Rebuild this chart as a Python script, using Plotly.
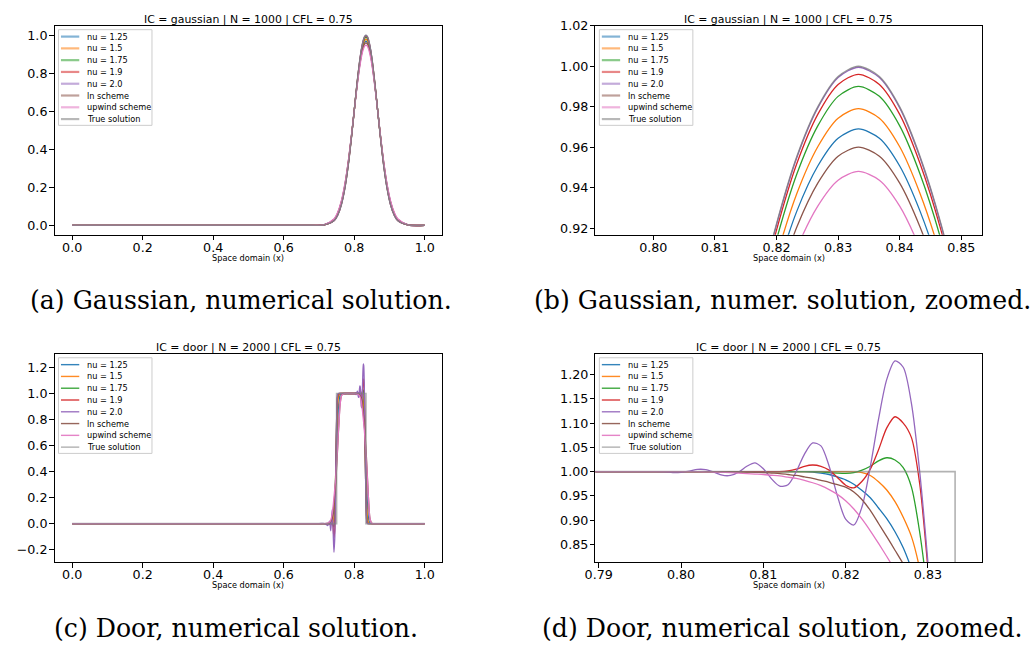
import plotly.graph_objects as go

# legend entries / colours (matplotlib tab10)
series_names = ["nu = 1.25", "nu = 1.5", "nu = 1.75", "nu = 1.9", "nu = 2.0",
                "ln scheme", "upwind scheme", "True solution"]
series_colors = ["#1f77b4", "#ff7f0e", "#2ca02c", "#d62728", "#9467bd",
                 "#8c564b", "#e377c2", "#7f7f7f"]

titles = ["IC = gaussian | N = 1000 | CFL = 0.75", "IC = gaussian | N = 1000 | CFL = 0.75",
          "IC = door | N = 2000 | CFL = 0.75", "IC = door | N = 2000 | CFL = 0.75"]
captions = ["(a) Gaussian, numerical solution.", "(b) Gaussian, numer. solution, zoomed.",
            "(c) Door, numerical solution.", "(d) Door, numerical solution, zoomed."]
xlabel = "Space domain (x)"

# ---- gaussian initial condition ----
gauss_x = [0.0, 0.35, 0.6, 0.68, 0.7133, 0.7433, 0.7533, 0.7633, 0.7733, 0.7833, 0.7933, 0.8033, 0.8083,
           0.8133, 0.8167, 0.8200, 0.8233, 0.8267, 0.8300, 0.8333, 0.8367, 0.8400, 0.8433, 0.8467, 0.8500,
           0.8533, 0.8583, 0.8633, 0.8733, 0.8833, 0.8933, 0.9033, 0.9133, 0.9233, 0.9533, 1.0]
gauss_nu125 = [0.0, 0.0, 0.0, 0.0, 0.0020, 0.0301, 0.0624, 0.1187, 0.2072, 0.3320, 0.4882, 0.6590, 0.7413,
               0.8164, 0.8603, 0.8979, 0.9284, 0.9507, 0.9644, 0.9690, 0.9644, 0.9507, 0.9284, 0.8979, 0.8603,
               0.8164, 0.7413, 0.6590, 0.4882, 0.3320, 0.2072, 0.1187, 0.0624, 0.0301, 0.0020, 0.0]
gauss_nu15 = [0.0, 0.0, 0.0, 0.0, 0.0018, 0.0283, 0.0596, 0.1148, 0.2027, 0.3280, 0.4862, 0.6604, 0.7448,
              0.8219, 0.8670, 0.9057, 0.9371, 0.9602, 0.9743, 0.9790, 0.9743, 0.9602, 0.9371, 0.9057, 0.8670,
              0.8219, 0.7448, 0.6604, 0.4862, 0.3280, 0.2027, 0.1148, 0.0596, 0.0283, 0.0018, 0.0]
gauss_nu175 = [0.0, 0.0, 0.0, 0.0, 0.0016, 0.0264, 0.0565, 0.1105, 0.1978, 0.3235, 0.4839, 0.6619, 0.7485,
               0.8278, 0.8743, 0.9143, 0.9467, 0.9705, 0.9851, 0.9900, 0.9851, 0.9705, 0.9467, 0.9143, 0.8743,
               0.8278, 0.7485, 0.6619, 0.4839, 0.3235, 0.1978, 0.1105, 0.0565, 0.0264, 0.0016, 0.0]
gauss_nu19 = [0.0, 0.0, 0.0, 0.0, 0.0015, 0.0254, 0.0549, 0.1083, 0.1952, 0.3211, 0.4826, 0.6627, 0.7505,
              0.8310, 0.8783, 0.9190, 0.9519, 0.9762, 0.9910, 0.9960, 0.9910, 0.9762, 0.9519, 0.9190, 0.8783,
              0.8310, 0.7505, 0.6627, 0.4826, 0.3211, 0.1952, 0.1083, 0.0549, 0.0254, 0.0015, 0.0]
gauss_nu20 = [0.0, 0.0, 0.0, 0.0, 0.0014, 0.0248, 0.0539, 0.1068, 0.1933, 0.3193, 0.4816, 0.6629, 0.7514,
              0.8327, 0.8805, 0.9216, 0.9549, 0.9794, 0.9944, 0.9995, 0.9944, 0.9794, 0.9549, 0.9216, 0.8805,
              0.8327, 0.7514, 0.6629, 0.4816, 0.3193, 0.1933, 0.1068, 0.0539, 0.0248, 0.0014, 0.0]
gauss_ln = [0.0, 0.0, 0.0, 0.0, 0.0023, 0.0320, 0.0653, 0.1225, 0.2116, 0.3359, 0.4902, 0.6578, 0.7383,
            0.8115, 0.8543, 0.8909, 0.9205, 0.9422, 0.9555, 0.9600, 0.9555, 0.9422, 0.9205, 0.8909, 0.8543,
            0.8115, 0.7383, 0.6578, 0.4902, 0.3359, 0.2116, 0.1225, 0.0653, 0.0320, 0.0023, 0.0]
gauss_upwind = [0.0, 0.0, 0.0, 0.0, 0.0026, 0.0341, 0.0685, 0.1268, 0.2163, 0.3397, 0.4916, 0.6552, 0.7335,
                0.8044, 0.8458, 0.8813, 0.9099, 0.9309, 0.9437, 0.9480, 0.9437, 0.9309, 0.9099, 0.8813, 0.8458,
                0.8044, 0.7335, 0.6552, 0.4916, 0.3397, 0.2163, 0.1268, 0.0685, 0.0341, 0.0026, 0.0]
gauss_true = [0.0, 0.0, 0.0, 0.0, 0.0014, 0.0248, 0.0539, 0.1069, 0.1934, 0.3195, 0.4818, 0.6632, 0.7518,
              0.8331, 0.8809, 0.9221, 0.9554, 0.9799, 0.9949, 1.0, 0.9949, 0.9799, 0.9554, 0.9221, 0.8809,
              0.8331, 0.7518, 0.6632, 0.4818, 0.3195, 0.1934, 0.1069, 0.0539, 0.0248, 0.0014, 0.0]

# ---- door initial condition ----
door_x = [0.0, 0.35, 0.6, 0.70, 0.715, 0.725, 0.730, 0.7335, 0.7375, 0.740, 0.7425, 0.745,
          0.7475, 0.750, 0.7525, 0.755, 0.7575, 0.760, 0.765, 0.775, 0.785, 0.792,
          0.797, 0.798, 0.799, 0.800, 0.801, 0.802, 0.803, 0.804, 0.805, 0.806,
          0.807, 0.808, 0.809, 0.810, 0.811, 0.812, 0.813, 0.814, 0.815, 0.816,
          0.817, 0.818, 0.819, 0.820, 0.821, 0.822, 0.823, 0.824, 0.825, 0.826,
          0.827, 0.828, 0.829, 0.830, 0.831, 0.832, 0.833, 0.834, 0.835, 0.836,
          0.838, 0.840, 0.8425, 0.845, 0.850, 0.860, 0.900, 0.950, 1.0]
door_nu125 = [0.0, 0.0, 0.0, 0.0, 0.0, 0.0, 0.0, 0.0026, 0.024, 0.061, 0.119, 0.215,
              0.366, 0.556, 0.746, 0.890, 0.954, 0.987, 0.999, 1.0, 1.0, 1.0,
              1.0, 1.0, 1.0, 1.0, 1.0, 1.0, 1.0, 1.0, 1.0, 1.0,
              1.0, 1.0, 1.0, 1.0, 1.0, 1.0, 1.0, 1.0, 1.0, 0.999,
              0.997, 0.994, 0.989, 0.983, 0.974, 0.961, 0.946, 0.925, 0.903, 0.876,
              0.843, 0.800, 0.750, 0.690, 0.620, 0.550, 0.470, 0.390, 0.310, 0.240,
              0.120, 0.050, 0.015, 0.003, 0.0, 0.0, 0.0, 0.0, 0.0]
door_nu15 = [0.0, 0.0, 0.0, 0.0, 0.0, 0.0, 0.0, 0.0, 0.0, 0.012, 0.057, 0.154,
             0.396, 0.683, 0.878, 0.965, 0.990, 0.999, 1.0, 1.0, 1.0, 1.0,
             1.0, 1.0, 1.0, 1.0, 1.0, 1.0, 1.0, 1.0, 1.0, 1.0,
             1.0, 1.0, 1.0, 1.0, 1.0, 1.0, 1.0, 1.0, 1.0, 1.0,
             1.0, 1.0, 1.0, 1.0, 0.9995, 0.998, 0.992, 0.979, 0.962, 0.938,
             0.906, 0.866, 0.800, 0.700, 0.580, 0.460, 0.350, 0.250, 0.170, 0.110,
             0.040, 0.012, 0.002, 0.0, 0.0, 0.0, 0.0, 0.0, 0.0]
door_nu175 = [0.0, 0.0, 0.0, 0.0, 0.0, 0.0, 0.0, 0.0005, 0.003, -0.015, -0.025, 0.060,
              0.404, 0.785, 0.967, 0.995, 1.0, 1.0, 1.0, 1.0, 1.0, 1.0,
              1.0, 1.0, 1.0, 1.0, 1.0, 1.0, 1.0, 1.0, 1.0, 1.0,
              1.0, 1.0, 1.0, 1.0, 1.0, 1.0, 1.0, 1.0, 1.0, 1.0,
              0.9995, 0.998, 0.997, 0.9965, 0.998, 1.003, 1.011, 1.022, 1.0285, 1.024,
              1.008, 0.968, 0.875, 0.740, 0.560, 0.390, 0.250, 0.140, 0.065, 0.025,
              0.004, 0.0, 0.0, 0.0, 0.0, 0.0, 0.0, 0.0, 0.0]
door_nu19 = [0.0, 0.0, 0.0, 0.0, 0.0, 0.0, -0.0015, -0.011, 0.032, -0.018, -0.111, -0.040,
             0.360, 0.770, 0.970, 0.996, 1.0, 1.0, 1.0, 1.0, 1.0, 1.0,
             1.0, 1.0, 1.0, 1.0, 1.0, 1.0, 1.0, 1.0, 1.0, 1.0,
             1.0, 1.0, 1.0, 1.0, 1.0, 1.0, 1.0015, 1.005, 1.011, 1.0136,
             1.011, 1.003, 0.988, 0.972, 0.9665, 0.980, 1.005, 1.045, 1.090, 1.113,
             1.100, 1.070, 0.975, 0.800, 0.600, 0.400, 0.230, 0.110, 0.040, 0.012,
             0.002, 0.0, 0.0, 0.0, 0.0, 0.0, 0.0, 0.0, 0.0]
door_nu20 = [0.0, 0.0, 0.0, 0.0, 0.001, -0.015, 0.019, -0.055, 0.108, -0.040, -0.220, -0.100,
             0.360, 0.790, 0.987, 1.0, 1.0, 1.0, 1.0, 1.0, 1.0, 1.0,
             1.000, 0.9995, 0.998, 0.9985, 1.001, 1.0045, 1.004, 0.999, 0.9925, 0.992,
             0.999, 1.011, 1.018, 1.006, 0.985, 0.970, 0.973, 1.000, 1.036, 1.059,
             1.053, 1.011, 0.950, 0.902, 0.890, 0.928, 1.010, 1.108, 1.190, 1.228,
             1.215, 1.140, 1.000, 0.813, 0.600, 0.390, 0.210, 0.090, 0.030, 0.008,
             0.0, 0.0, 0.0, 0.0, 0.0, 0.0, 0.0, 0.0, 0.0]
door_ln = [0.0, 0.0, 0.0, 0.0, 0.0, 0.001, 0.0066, 0.017, 0.040, 0.087, 0.156, 0.229,
           0.313, 0.427, 0.554, 0.687, 0.820, 0.920, 0.990, 1.0, 1.0, 1.0,
           1.0, 1.0, 1.0, 1.0, 1.0, 1.0, 1.0, 1.0, 1.0, 1.0,
           0.9995, 0.999, 0.9985, 0.998, 0.997, 0.996, 0.994, 0.992, 0.989, 0.986,
           0.982, 0.978, 0.973, 0.968, 0.958, 0.942, 0.920, 0.893, 0.866, 0.838,
           0.810, 0.780, 0.748, 0.713, 0.675, 0.633, 0.588, 0.540, 0.490, 0.438,
           0.330, 0.220, 0.100, 0.035, 0.003, 0.0, 0.0, 0.0, 0.0]
door_upwind = [0.0, 0.0, 0.0, 0.0, 0.0, 0.0043, 0.012, 0.0285, 0.074, 0.130, 0.200, 0.271,
               0.347, 0.458, 0.570, 0.702, 0.807, 0.910, 0.988, 1.0, 1.0, 1.0,
               1.0, 1.0, 1.0, 1.0, 1.0, 1.0, 0.9995, 0.999, 0.9985, 0.998,
               0.997, 0.996, 0.995, 0.994, 0.9925, 0.991, 0.9885, 0.986, 0.982, 0.977,
               0.971, 0.963, 0.953, 0.940, 0.923, 0.902, 0.878, 0.852, 0.825, 0.797,
               0.768, 0.738, 0.706, 0.672, 0.636, 0.597, 0.556, 0.512, 0.466, 0.418,
               0.315, 0.210, 0.100, 0.035, 0.003, 0.0, 0.0, 0.0, 0.0]
door_true_x = [0.0, 0.75, 0.75, 0.8333, 0.8333, 1.0]
door_true_y = [0.0, 0.0, 1.0, 1.0, 0.0, 0.0]

gauss_series = [gauss_nu125, gauss_nu15, gauss_nu175, gauss_nu19, gauss_nu20, gauss_ln, gauss_upwind]
door_series = [door_nu125, door_nu15, door_nu175, door_nu19, door_nu20, door_ln, door_upwind]

# frame boxes of the four axes in pixels (left, right, top, bottom)
W, H = 1033, 645
frames = [(44, 436, 18, 230), (590.7, 981.7, 18, 230),
          (44, 436, 350.7, 562), (590.7, 981.7, 350.7, 562)]

fig = go.Figure()

for k in range(4):
    ax = "" if k == 0 else str(k + 1)
    if k < 2:
        for name, col, ys in zip(series_names, series_colors, gauss_series):
            fig.add_trace(go.Scatter(x=gauss_x, y=ys, mode="lines", name=name,
                                     line=dict(color=col, width=1.3, shape="spline", smoothing=0.8),
                                     xaxis="x" + ax, yaxis="y" + ax))
        fig.add_trace(go.Scatter(x=gauss_x, y=gauss_true, mode="lines", name=series_names[7],
                                 line=dict(color=series_colors[7], width=1.4, shape="spline", smoothing=0.8),
                                 opacity=0.8, xaxis="x" + ax, yaxis="y" + ax))
    else:
        for name, col, ys in zip(series_names, series_colors, door_series):
            fig.add_trace(go.Scatter(x=door_x, y=ys, mode="lines", name=name,
                                     line=dict(color=col, width=1.3, shape="spline", smoothing=0.8),
                                     xaxis="x" + ax, yaxis="y" + ax))
        fig.add_trace(go.Scatter(x=door_true_x, y=door_true_y, mode="lines", name=series_names[7],
                                 line=dict(color=series_colors[7], width=1.6),
                                 opacity=0.6, xaxis="x" + ax, yaxis="y" + ax))


def axis_style(**kw):
    d = dict(showline=True, mirror=True, linecolor="black", linewidth=1,
             ticks="outside", ticklen=4.5, tickwidth=1, tickcolor="black",
             showgrid=False, zeroline=False,
             tickfont=dict(family="DejaVu Sans", size=12.7, color="black"))
    d.update(kw)
    return d


x_ranges = [[-0.05, 1.05], [0.7906, 0.8534], [-0.05, 1.05], [0.7896, 0.8366]]
y_ranges = [[-0.05, 1.05], [0.9167, 1.02], [-0.296, 1.305], [0.8134, 1.2427]]
x_dticks = [0.2, 0.01, 0.2, 0.01]
y_dticks = [0.2, 0.02, 0.2, 0.05]
x_fmts = [".1f", ".2f", ".1f", ".2f"]
y_fmts = [".1f", ".2f", ".1f", ".2f"]

layout = {}
for k, (l, r, t, b) in enumerate(frames):
    ax = "" if k == 0 else str(k + 1)
    layout["xaxis" + ax] = axis_style(domain=[l / W, r / W], range=x_ranges[k], anchor="y" + ax,
                                      tick0=0, dtick=x_dticks[k], tickformat=x_fmts[k],
                                      ticklabelstandoff=-4)
    layout["yaxis" + ax] = axis_style(domain=[1 - b / H, 1 - t / H], range=y_ranges[k], anchor="x" + ax,
                                      tick0=0, dtick=y_dticks[k], tickformat=y_fmts[k],
                                      ticklabelstandoff=-1)

fig.update_layout(**layout)

shapes = []
annotations = []
for k, (l, r, t, b) in enumerate(frames):
    ax = "" if k == 0 else str(k + 1)
    fw, fh = r - l, b - t
    xr, yr = "x" + ax + " domain", "y" + ax + " domain"
    # legend box
    shapes.append(dict(type="rect", xref=xr, yref=yr, x0=4 / fw, x1=98.5 / fw,
                       y0=1 - 101 / fh, y1=1 - 4 / fh, fillcolor="rgba(255,255,255,0.8)",
                       line=dict(color="#cccccc", width=1)))
    for i, (name, col) in enumerate(zip(series_names, series_colors)):
        yy = 1 - (11 + i * 11.95) / fh
        if k < 2:
            lw, op = 2.2, 0.55
        else:
            lw, op = 1.4, 0.9 if i < 7 else 0.6
        shapes.append(dict(type="line", xref=xr, yref=yr, x0=6.5 / fw, x1=25 / fw, y0=yy, y1=yy,
                           line=dict(color=col, width=lw), opacity=op))
        annotations.append(dict(text=name, xref=xr, yref=yr, x=31 / fw, y=yy, xanchor="left",
                                yanchor="middle", showarrow=False,
                                font=dict(family="DejaVu Sans", size=8.2, color="black")))
    cx = (l + r) / 2 / W
    annotations.append(dict(text=titles[k], xref="paper", yref="paper", x=cx, y=1 - (t - 6) / H,
                            xanchor="center", yanchor="middle", showarrow=False,
                            font=dict(family="DejaVu Sans", size=10.9, color="black")))
    annotations.append(dict(text=xlabel, xref="paper", yref="paper", x=cx, y=1 - (b + 23.5) / H,
                            xanchor="center", yanchor="middle", showarrow=False,
                            font=dict(family="DejaVu Sans", size=8.2, color="black")))

cap_x = [232.5, 780, 227, 780]
cap_y = [297, 297, 629, 629]
for k in range(4):
    annotations.append(dict(text=captions[k], xref="paper", yref="paper", x=cap_x[k] / W, y=1 - cap_y[k] / H,
                            xanchor="center", yanchor="middle", showarrow=False,
                            font=dict(family="DejaVu Serif", size=25.2, color="black")))

fig.update_layout(shapes=shapes, annotations=annotations, showlegend=False,
                  width=W, height=H, margin=dict(l=0, r=0, t=0, b=0),
                  paper_bgcolor="white", plot_bgcolor="white",
                  font=dict(family="DejaVu Sans"))

fig.write_html("out.html", config={"displayModeBar": False},
               post_script="document.body.style.margin='0px';")
